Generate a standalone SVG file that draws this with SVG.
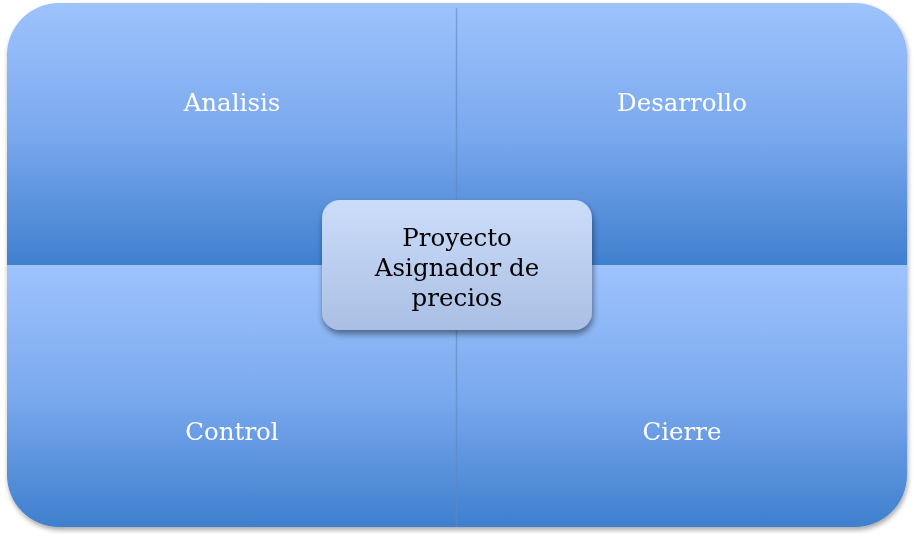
<svg xmlns="http://www.w3.org/2000/svg" width="914" height="539" viewBox="0 0 914 539">
<defs>
<linearGradient id="gq" x1="0" y1="0" x2="0" y2="1">
<stop offset="0" stop-color="#9EC3FD"/>
<stop offset="0.5" stop-color="#7AA9EE"/>
<stop offset="1" stop-color="#3F7FCE"/>
</linearGradient>
<linearGradient id="gc" x1="0" y1="0" x2="0" y2="1">
<stop offset="0" stop-color="#CCDDFA"/>
<stop offset="1" stop-color="#AABFE4"/>
</linearGradient>
<filter id="sh" x="-10%" y="-10%" width="120%" height="130%">
<feGaussianBlur in="SourceAlpha" stdDeviation="2.5"/>
<feOffset dx="1" dy="3" result="b"/>
<feComponentTransfer><feFuncA type="linear" slope="0.35"/></feComponentTransfer>
<feMerge><feMergeNode/><feMergeNode in="SourceGraphic"/></feMerge>
</filter>
<filter id="sh2" x="-10%" y="-10%" width="130%" height="140%">
<feGaussianBlur in="SourceAlpha" stdDeviation="3"/>
<feOffset dx="1" dy="4" result="b"/>
<feComponentTransfer><feFuncA type="linear" slope="0.45"/></feComponentTransfer>
<feMerge><feMergeNode/><feMergeNode in="SourceGraphic"/></feMerge>
</filter>
</defs>
<style>
.q{fill:url(#gq)}
.t{font-family:"DejaVu Serif","Liberation Serif",serif;font-size:24.5px;fill:#ffffff;text-anchor:middle}
.c{font-family:"DejaVu Serif","Liberation Serif",serif;font-size:24.5px;fill:#000000;text-anchor:middle}
</style>
<rect width="914" height="539" fill="#ffffff"/>
<g filter="url(#sh)">
<g id="analisis">
<path class="q" d="M7,55 A52,52 0 0 1 59,3 H456 V265 H7 Z"/>
<text class="t" x="232" y="111">Analisis</text>
</g>
<g id="desarrollo">
<path class="q" d="M456,3 H855 A52,52 0 0 1 907,55 V265 H456 Z"/>
<text class="t" x="682" y="111">Desarrollo</text>
</g>
<g id="control">
<path class="q" d="M7,265 H456 V527 H59 A52,52 0 0 1 7,475 Z"/>
<text class="t" x="232" y="440">Control</text>
</g>
<g id="cierre">
<path class="q" d="M456,265 H907 V475 A52,52 0 0 1 855,527 H456 Z"/>
<text class="t" x="682" y="440">Cierre</text>
</g>
</g>
<g id="connectors">
<line x1="456.5" y1="8" x2="456.5" y2="527" stroke="#5F88BE" stroke-width="1.5" opacity="0.6"/>
</g>
<g id="proyecto" filter="url(#sh2)">
<rect x="322" y="200" width="270" height="130" rx="18" fill="url(#gc)"/>
<text class="c" x="457" y="246">Proyecto</text>
<text class="c" x="457" y="276">Asignador de</text>
<text class="c" x="457" y="306">precios</text>
</g>
</svg>
